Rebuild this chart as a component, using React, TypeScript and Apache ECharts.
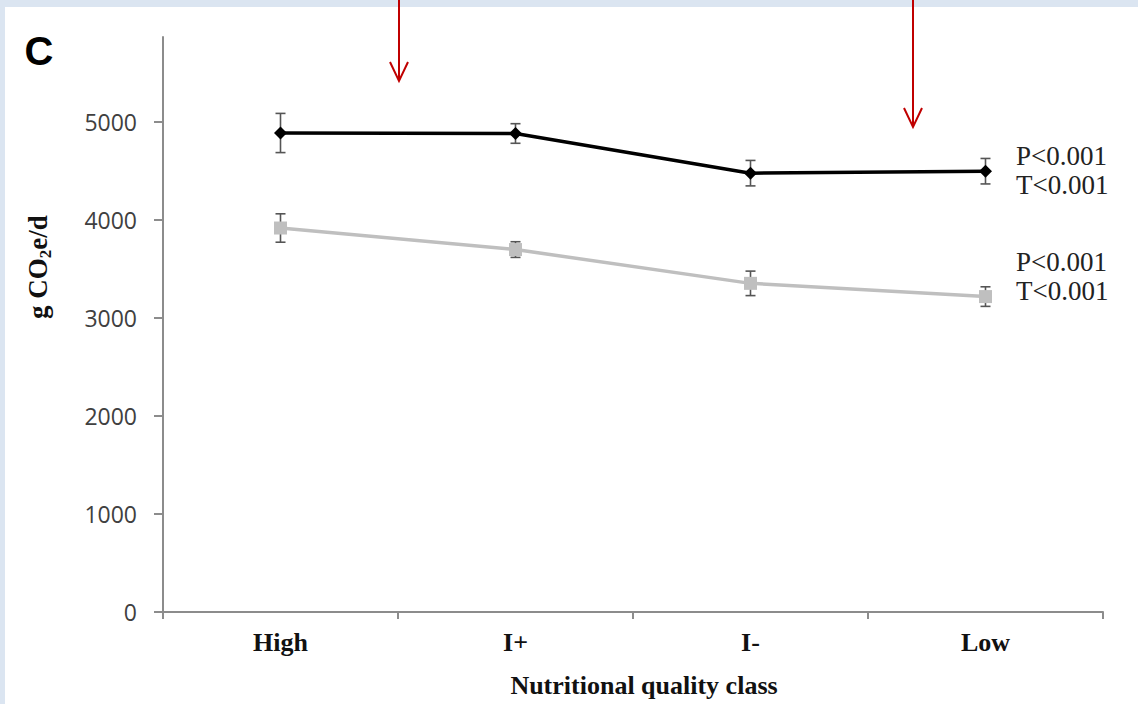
import React, { useEffect, useRef } from "react";
import * as echarts from "echarts";

// Nutritional quality classes on the x axis
const categories = ["High", "I+", "I-", "Low"];

// Mean emissions (g CO2e/d) and their error half-widths
const upperSeries = [4890, 4885, 4480, 4500];
const upperErr = [200, 100, 130, 130];
const lowerSeries = [3920, 3700, 3355, 3220];
const lowerErr = [145, 80, 125, 100];

// Value axis settings and tick labels
const yMax = 5870;
const yTicks = [0, 1000, 2000, 3000, 4000, 5000];

// Statistical annotations beside each line
const upperStats = ["P<0.001", "T<0.001"];
const lowerStats = ["P<0.001", "T<0.001"];

const SERIF = "'Liberation Serif', 'Times New Roman', serif";
const SANS = "'Open Sans', 'Noto Sans', sans-serif";

function errorData(values: number[], errs: number[]) {
  return values.map((v, i) => [i, v - errs[i], v + errs[i]]);
}

function errorSeries(values: number[], errs: number[]) {
  return {
    type: "custom",
    z: 1,
    silent: true,
    data: errorData(values, errs),
    renderItem: (params: any, api: any) => {
      const x = api.value(0);
      const lo = api.coord([x, api.value(1)]);
      const hi = api.coord([x, api.value(2)]);
      const cap = 5;
      const style = { stroke: "#555555", lineWidth: 1.6 };
      return {
        type: "group",
        children: [
          { type: "line", shape: { x1: lo[0], y1: lo[1], x2: hi[0], y2: hi[1] }, style },
          { type: "line", shape: { x1: lo[0] - cap, y1: lo[1], x2: lo[0] + cap, y2: lo[1] }, style },
          { type: "line", shape: { x1: hi[0] - cap, y1: hi[1], x2: hi[0] + cap, y2: hi[1] }, style },
        ],
      };
    },
  };
}

function arrow(x: number, tipY: number) {
  const style = { stroke: "#c00000", lineWidth: 2 };
  return {
    type: "group",
    children: [
      { type: "line", shape: { x1: x, y1: 0, x2: x, y2: tipY }, style },
      {
        type: "polyline",
        shape: { points: [[x - 9, tipY - 19], [x, tipY], [x + 9, tipY - 19]] },
        style: { ...style, fill: "none" },
      },
    ],
  };
}

export default function App() {
  const ref = useRef<HTMLDivElement>(null);

  useEffect(() => {
    if (!ref.current) return;
    const chart = echarts.init(ref.current, null, { renderer: "svg" });
    chart.setOption({
      animation: false,
      backgroundColor: "#dbe5f1",
      grid: { left: 163, right: 35, top: 37, bottom: 92 },
      xAxis: {
        type: "category",
        data: categories,
        boundaryGap: true,
        axisLine: { lineStyle: { color: "#8c8c8c", width: 2 } },
        axisTick: { show: true, length: 7, lineStyle: { color: "#8c8c8c", width: 2 } },
        axisLabel: {
          margin: 17,
          fontFamily: SERIF,
          fontWeight: "bold",
          fontSize: 26,
          color: "#111111",
        },
        name: "Nutritional quality class",
        nameLocation: "middle",
        nameGap: 60,
        nameTextStyle: {
          fontFamily: SERIF,
          fontWeight: "bold",
          fontSize: 26,
          color: "#111111",
          padding: [0, 0, 0, 22],
        },
      },
      yAxis: {
        type: "value",
        min: 0,
        max: yMax,
        interval: 1000,
        splitLine: { show: false },
        axisLine: { show: true, lineStyle: { color: "#8c8c8c", width: 2 } },
        axisTick: {
          show: true,
          length: 9,
          customValues: yTicks,
          lineStyle: { color: "#8c8c8c", width: 2 },
        },
        axisLabel: {
          customValues: yTicks,
          formatter: (v: number) => String(v),
          margin: 26,
          fontFamily: SANS,
          fontSize: 23,
          color: "#404040",
        },
      },
      graphic: [
        {
          type: "rect",
          z: -10,
          silent: true,
          shape: { x: 5, y: 7, width: 1138, height: 704 },
          style: { fill: "#ffffff" },
        },
        {
          type: "text",
          x: 39,
          y: 51,
          style: {
            text: "C",
            font: "bold 40px 'Liberation Sans', Arial, sans-serif",
            fill: "#000000",
            align: "center",
            verticalAlign: "middle",
          },
        },
        {
          type: "text",
          x: 38,
          y: 267,
          rotation: Math.PI / 2,
          style: {
            text: "{b|g CO}{s|2}{b|e/d}",
            align: "center",
            verticalAlign: "middle",
            fill: "#111111",
            rich: {
              b: { fontFamily: SERIF, fontWeight: "bold", fontSize: 27, lineHeight: 32 },
              s: { fontFamily: SERIF, fontWeight: "bold", fontSize: 17, lineHeight: 17, verticalAlign: "bottom" },
            },
          },
        },
        ...[
          [upperStats[0], 156],
          [upperStats[1], 185],
          [lowerStats[0], 262],
          [lowerStats[1], 291],
        ].map(([t, y]) => ({
          type: "text",
          x: 1016,
          y: y as number,
          style: {
            text: t as string,
            font: `27px ${SERIF}`,
            fill: "#222222",
            align: "left",
            verticalAlign: "middle",
          },
        })),
        arrow(399, 81),
        arrow(913, 127),
      ],
      series: [
        errorSeries(upperSeries, upperErr),
        errorSeries(lowerSeries, lowerErr),
        {
          type: "line",
          z: 3,
          data: upperSeries,
          symbol: "diamond",
          symbolSize: 13,
          itemStyle: { color: "#000000" },
          lineStyle: { color: "#000000", width: 3.5 },
        },
        {
          type: "line",
          z: 2,
          data: lowerSeries,
          symbol: "rect",
          symbolSize: 13,
          itemStyle: { color: "#bfbfbf" },
          lineStyle: { color: "#bfbfbf", width: 3.5 },
        },
      ],
    });
    return () => chart.dispose();
  }, []);

  return (
    <div
      ref={ref}
      style={{ position: "fixed", left: 0, top: 0, width: 1138, height: 704 }}
    />
  );
}
